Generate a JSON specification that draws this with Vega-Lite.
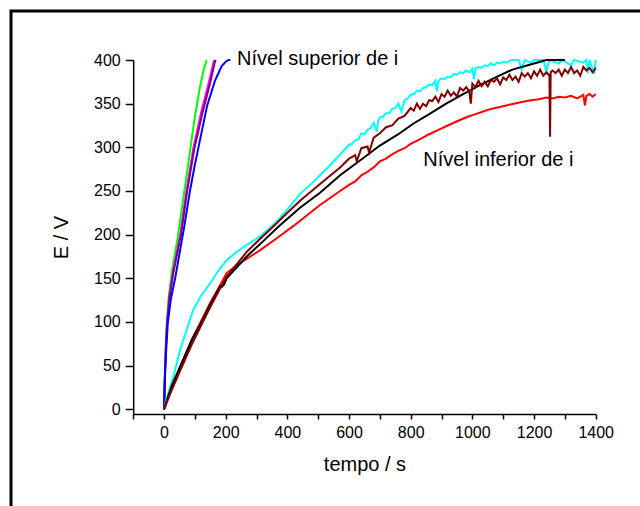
{
  "$schema": "https://vega.github.io/schema/vega-lite/v6.json",
  "width": 640,
  "height": 500,
  "autosize": "none",
  "padding": {"left": 11, "top": 11, "right": 0, "bottom": 0},
  "background": "white",
  "config": {
    "view": {"stroke": "black", "strokeWidth": 3},
    "font": "Liberation Sans",
    "text": {"font": "Liberation Sans"}
  },
  "datasets": {
    "curves": [
      {"s":"green","t":0,"v":0},{"s":"green","t":3,"v":45},{"s":"green","t":6,"v":75},{"s":"green","t":9,"v":100},{"s":"green","t":15,"v":128},{"s":"green","t":25,"v":157},{"s":"green","t":43,"v":194},{"s":"green","t":66,"v":250},{"s":"green","t":84,"v":295},{"s":"green","t":100,"v":335},{"s":"green","t":117,"v":370},{"s":"green","t":128,"v":388},{"s":"green","t":138,"v":400},
      {"s":"magenta","t":0,"v":0},{"s":"magenta","t":3,"v":41},{"s":"magenta","t":6,"v":72},{"s":"magenta","t":10,"v":100},{"s":"magenta","t":17,"v":129},{"s":"magenta","t":29,"v":157},{"s":"magenta","t":53,"v":201},{"s":"magenta","t":73,"v":251},{"s":"magenta","t":95,"v":299},{"s":"magenta","t":121,"v":341},{"s":"magenta","t":145,"v":374},{"s":"magenta","t":161,"v":398},{"s":"magenta","t":163,"v":400},
      {"s":"purple","t":0,"v":0},{"s":"purple","t":3,"v":40},{"s":"purple","t":6,"v":70},{"s":"purple","t":10,"v":98},{"s":"purple","t":18,"v":128},{"s":"purple","t":30,"v":156},{"s":"purple","t":55,"v":200},{"s":"purple","t":75,"v":250},{"s":"purple","t":98,"v":298},{"s":"purple","t":125,"v":340},{"s":"purple","t":149,"v":373},{"s":"purple","t":165,"v":398},{"s":"purple","t":168,"v":400},
      {"s":"blue","t":0,"v":0},{"s":"blue","t":3,"v":38},{"s":"blue","t":7,"v":68},{"s":"blue","t":12,"v":98},{"s":"blue","t":22,"v":126},{"s":"blue","t":36,"v":150},{"s":"blue","t":50,"v":178},{"s":"blue","t":66,"v":210},{"s":"blue","t":84,"v":250},{"s":"blue","t":100,"v":280},{"s":"blue","t":114,"v":304},{"s":"blue","t":140,"v":348},{"s":"blue","t":165,"v":376},{"s":"blue","t":187,"v":393},{"s":"blue","t":200,"v":398},{"s":"blue","t":209,"v":400},{"s":"blue","t":215,"v":400},
      {"s":"cyan","t":0,"v":0},{"s":"cyan","t":5,"v":8},{"s":"cyan","t":15,"v":20},{"s":"cyan","t":30,"v":37},{"s":"cyan","t":52,"v":68},{"s":"cyan","t":75,"v":93},{"s":"cyan","t":95,"v":114},{"s":"cyan","t":120,"v":130},{"s":"cyan","t":149,"v":144},{"s":"cyan","t":175,"v":158},{"s":"cyan","t":203,"v":171},{"s":"cyan","t":250,"v":184},{"s":"cyan","t":311,"v":198},{"s":"cyan","t":360,"v":213},{"s":"cyan","t":400,"v":229},{"s":"cyan","t":442,"v":247},{"s":"cyan","t":480,"v":259},{"s":"cyan","t":506,"v":268},{"s":"cyan","t":540,"v":280},{"s":"cyan","t":571,"v":292},{"s":"cyan","t":600,"v":303},{"s":"cyan","t":610,"v":304},{"s":"cyan","t":620,"v":308},{"s":"cyan","t":630,"v":309},{"s":"cyan","t":640,"v":316},{"s":"cyan","t":650,"v":315},{"s":"cyan","t":660,"v":320},{"s":"cyan","t":670,"v":322},{"s":"cyan","t":680,"v":328},{"s":"cyan","t":690,"v":318},{"s":"cyan","t":695,"v":331},{"s":"cyan","t":700,"v":334},{"s":"cyan","t":710,"v":335},{"s":"cyan","t":720,"v":339},{"s":"cyan","t":730,"v":339},{"s":"cyan","t":740,"v":344},{"s":"cyan","t":750,"v":345},{"s":"cyan","t":760,"v":350},{"s":"cyan","t":770,"v":341},{"s":"cyan","t":780,"v":354},{"s":"cyan","t":790,"v":356},{"s":"cyan","t":800,"v":360},{"s":"cyan","t":810,"v":361},{"s":"cyan","t":820,"v":365},{"s":"cyan","t":830,"v":364},{"s":"cyan","t":840,"v":368},{"s":"cyan","t":850,"v":369},{"s":"cyan","t":860,"v":372},{"s":"cyan","t":870,"v":371},{"s":"cyan","t":880,"v":376},{"s":"cyan","t":885,"v":364},{"s":"cyan","t":890,"v":376},{"s":"cyan","t":900,"v":379},{"s":"cyan","t":910,"v":378},{"s":"cyan","t":920,"v":381},{"s":"cyan","t":930,"v":380},{"s":"cyan","t":940,"v":384},{"s":"cyan","t":950,"v":383},{"s":"cyan","t":960,"v":386},{"s":"cyan","t":970,"v":385},{"s":"cyan","t":980,"v":388},{"s":"cyan","t":990,"v":386},{"s":"cyan","t":1000,"v":390},{"s":"cyan","t":1005,"v":378},{"s":"cyan","t":1010,"v":390},{"s":"cyan","t":1020,"v":392},{"s":"cyan","t":1030,"v":391},{"s":"cyan","t":1040,"v":394},{"s":"cyan","t":1050,"v":393},{"s":"cyan","t":1060,"v":396},{"s":"cyan","t":1070,"v":394},{"s":"cyan","t":1080,"v":397},{"s":"cyan","t":1090,"v":396},{"s":"cyan","t":1100,"v":398},{"s":"cyan","t":1110,"v":397},{"s":"cyan","t":1120,"v":399},{"s":"cyan","t":1130,"v":400},{"s":"cyan","t":1150,"v":400},{"s":"cyan","t":1160,"v":389},{"s":"cyan","t":1170,"v":400},{"s":"cyan","t":1190,"v":397},{"s":"cyan","t":1200,"v":400},{"s":"cyan","t":1230,"v":400},{"s":"cyan","t":1240,"v":387},{"s":"cyan","t":1250,"v":400},{"s":"cyan","t":1280,"v":396},{"s":"cyan","t":1290,"v":400},{"s":"cyan","t":1320,"v":394},{"s":"cyan","t":1330,"v":400},{"s":"cyan","t":1360,"v":397},{"s":"cyan","t":1370,"v":400},{"s":"cyan","t":1375,"v":385},{"s":"cyan","t":1380,"v":400},{"s":"cyan","t":1395,"v":384},{"s":"cyan","t":1400,"v":400},
      {"s":"red","t":0,"v":0},{"s":"red","t":10,"v":10},{"s":"red","t":25,"v":24},{"s":"red","t":52,"v":48},{"s":"red","t":90,"v":80},{"s":"red","t":120,"v":101},{"s":"red","t":150,"v":122},{"s":"red","t":180,"v":141},{"s":"red","t":203,"v":156},{"s":"red","t":240,"v":166},{"s":"red","t":311,"v":182},{"s":"red","t":370,"v":197},{"s":"red","t":420,"v":210},{"s":"red","t":470,"v":224},{"s":"red","t":506,"v":234},{"s":"red","t":571,"v":250},{"s":"red","t":600,"v":257},{"s":"red","t":620,"v":261},{"s":"red","t":640,"v":268},{"s":"red","t":660,"v":272},{"s":"red","t":680,"v":277},{"s":"red","t":700,"v":284},{"s":"red","t":720,"v":287},{"s":"red","t":740,"v":292},{"s":"red","t":760,"v":296},{"s":"red","t":780,"v":299},{"s":"red","t":800,"v":304},{"s":"red","t":829,"v":309},{"s":"red","t":860,"v":315},{"s":"red","t":890,"v":320},{"s":"red","t":920,"v":325},{"s":"red","t":958,"v":331},{"s":"red","t":985,"v":335},{"s":"red","t":1010,"v":338},{"s":"red","t":1035,"v":341},{"s":"red","t":1060,"v":344},{"s":"red","t":1085,"v":346},{"s":"red","t":1110,"v":348},{"s":"red","t":1135,"v":350},{"s":"red","t":1160,"v":352},{"s":"red","t":1190,"v":354},{"s":"red","t":1216,"v":355},{"s":"red","t":1240,"v":357},{"s":"red","t":1260,"v":356},{"s":"red","t":1280,"v":358},{"s":"red","t":1300,"v":357},{"s":"red","t":1320,"v":359},{"s":"red","t":1340,"v":356},{"s":"red","t":1360,"v":360},{"s":"red","t":1365,"v":348},{"s":"red","t":1370,"v":359},{"s":"red","t":1380,"v":361},{"s":"red","t":1390,"v":358},{"s":"red","t":1400,"v":361},
      {"s":"black","t":0,"v":0},{"s":"black","t":10,"v":11},{"s":"black","t":25,"v":27},{"s":"black","t":55,"v":51},{"s":"black","t":90,"v":79},{"s":"black","t":119,"v":98},{"s":"black","t":150,"v":120},{"s":"black","t":175,"v":136},{"s":"black","t":182,"v":141},{"s":"black","t":187,"v":140},{"s":"black","t":195,"v":143},{"s":"black","t":203,"v":150},{"s":"black","t":268,"v":175},{"s":"black","t":320,"v":192},{"s":"black","t":377,"v":211},{"s":"black","t":442,"v":231},{"s":"black","t":506,"v":248},{"s":"black","t":571,"v":268},{"s":"black","t":640,"v":286},{"s":"black","t":700,"v":302},{"s":"black","t":760,"v":315},{"s":"black","t":808,"v":327},{"s":"black","t":860,"v":338},{"s":"black","t":915,"v":350},{"s":"black","t":970,"v":361},{"s":"black","t":1023,"v":371},{"s":"black","t":1080,"v":381},{"s":"black","t":1130,"v":389},{"s":"black","t":1180,"v":394},{"s":"black","t":1220,"v":398},{"s":"black","t":1240,"v":400},{"s":"black","t":1300,"v":400},
      {"s":"maroon","t":0,"v":0},{"s":"maroon","t":10,"v":9},{"s":"maroon","t":25,"v":22},{"s":"maroon","t":52,"v":44},{"s":"maroon","t":90,"v":74},{"s":"maroon","t":120,"v":96},{"s":"maroon","t":150,"v":117},{"s":"maroon","t":180,"v":137},{"s":"maroon","t":203,"v":152},{"s":"maroon","t":240,"v":168},{"s":"maroon","t":270,"v":181},{"s":"maroon","t":311,"v":195},{"s":"maroon","t":350,"v":208},{"s":"maroon","t":400,"v":225},{"s":"maroon","t":442,"v":239},{"s":"maroon","t":506,"v":258},{"s":"maroon","t":571,"v":277},{"s":"maroon","t":600,"v":287},{"s":"maroon","t":620,"v":291},{"s":"maroon","t":625,"v":284},{"s":"maroon","t":640,"v":299},{"s":"maroon","t":660,"v":301},{"s":"maroon","t":665,"v":294},{"s":"maroon","t":680,"v":311},{"s":"maroon","t":700,"v":316},{"s":"maroon","t":720,"v":323},{"s":"maroon","t":740,"v":325},{"s":"maroon","t":760,"v":333},{"s":"maroon","t":780,"v":336},{"s":"maroon","t":800,"v":345},{"s":"maroon","t":810,"v":342},{"s":"maroon","t":820,"v":350},{"s":"maroon","t":830,"v":344},{"s":"maroon","t":840,"v":350},{"s":"maroon","t":850,"v":347},{"s":"maroon","t":860,"v":354},{"s":"maroon","t":870,"v":353},{"s":"maroon","t":880,"v":358},{"s":"maroon","t":890,"v":352},{"s":"maroon","t":900,"v":361},{"s":"maroon","t":910,"v":358},{"s":"maroon","t":920,"v":365},{"s":"maroon","t":930,"v":359},{"s":"maroon","t":940,"v":363},{"s":"maroon","t":950,"v":358},{"s":"maroon","t":960,"v":368},{"s":"maroon","t":970,"v":365},{"s":"maroon","t":980,"v":369},{"s":"maroon","t":990,"v":364},{"s":"maroon","t":995,"v":350},{"s":"maroon","t":1000,"v":373},{"s":"maroon","t":1010,"v":369},{"s":"maroon","t":1020,"v":376},{"s":"maroon","t":1030,"v":370},{"s":"maroon","t":1040,"v":375},{"s":"maroon","t":1050,"v":370},{"s":"maroon","t":1060,"v":377},{"s":"maroon","t":1070,"v":375},{"s":"maroon","t":1080,"v":379},{"s":"maroon","t":1090,"v":372},{"s":"maroon","t":1100,"v":380},{"s":"maroon","t":1110,"v":377},{"s":"maroon","t":1120,"v":383},{"s":"maroon","t":1130,"v":377},{"s":"maroon","t":1140,"v":381},{"s":"maroon","t":1150,"v":375},{"s":"maroon","t":1160,"v":385},{"s":"maroon","t":1170,"v":381},{"s":"maroon","t":1180,"v":385},{"s":"maroon","t":1190,"v":379},{"s":"maroon","t":1200,"v":387},{"s":"maroon","t":1210,"v":382},{"s":"maroon","t":1220,"v":389},{"s":"maroon","t":1230,"v":382},{"s":"maroon","t":1240,"v":386},{"s":"maroon","t":1250,"v":382},{"s":"maroon","t":1252,"v":312},{"s":"maroon","t":1254,"v":386},{"s":"maroon","t":1260,"v":388},{"s":"maroon","t":1270,"v":385},{"s":"maroon","t":1280,"v":389},{"s":"maroon","t":1290,"v":382},{"s":"maroon","t":1300,"v":389},{"s":"maroon","t":1310,"v":385},{"s":"maroon","t":1320,"v":392},{"s":"maroon","t":1330,"v":385},{"s":"maroon","t":1340,"v":388},{"s":"maroon","t":1350,"v":382},{"s":"maroon","t":1360,"v":392},{"s":"maroon","t":1370,"v":388},{"s":"maroon","t":1380,"v":391},{"s":"maroon","t":1390,"v":386},{"s":"maroon","t":1400,"v":391}
    ],
    "labels": [
      {"t": 237, "v": 394, "label": "Nível superior de i"},
      {"t": 841, "v": 278.6, "label": "Nível inferior de i"}
    ]
  },
  "layer": [
    {
      "data": {"name": "curves"},
      "mark": {"type": "line", "strokeWidth": 2},
      "encoding": {
        "x": {
          "field": "t", "type": "quantitative",
          "scale": {"domain": [-100, 1400], "range": [122.2, 584.7], "nice": false, "zero": false},
          "axis": {
            "title": "tempo / s",
            "values": [-100, 0, 100, 200, 300, 400, 500, 600, 700, 800, 900, 1000, 1100, 1200, 1300, 1400],
            "labelExpr": "datum.value % 200 == 0 ? datum.label : ''",
            "format": "d",
            "offset": -97,
            "grid": false,
            "domainColor": "black", "domainWidth": 1.5,
            "tickColor": "black", "tickWidth": 1.5, "tickSize": 5,
            "labelFontSize": 16, "labelColor": "black", "labelPadding": 5,
            "labelOverlap": false, "labelFlush": false,
            "titleFontSize": 20, "titleFontWeight": "normal", "titleColor": "black", "titlePadding": 14
          }
        },
        "y": {
          "field": "v", "type": "quantitative",
          "scale": {"domain": [-5.4, 400], "range": [403, 49], "nice": false, "zero": false},
          "axis": {
            "title": "E / V",
            "values": [0, 25, 50, 75, 100, 125, 150, 175, 200, 225, 250, 275, 300, 325, 350, 375, 400],
            "labelExpr": "datum.value % 50 == 0 ? datum.label : ''",
            "format": "d",
            "offset": -122.2,
            "grid": false,
            "domainColor": "black", "domainWidth": 1.5,
            "tickColor": "black", "tickWidth": 1.5,
            "tickSize": {"condition": {"test": "datum.value % 50 == 0", "value": 8}, "value": 5},
            "labelFontSize": 16, "labelColor": "black", "labelPadding": 5,
            "labelOverlap": false, "labelFlush": false,
            "titleFontSize": 20, "titleFontWeight": "normal", "titleColor": "black", "titlePadding": 22
          }
        },
        "color": {
          "field": "s", "type": "nominal",
          "scale": {
            "domain": ["green", "magenta", "purple", "blue", "cyan", "red", "black", "maroon"],
            "range": ["#00ff00", "#ff00ff", "#800080", "#0000ff", "#00ffff", "#ff0000", "#000000", "#800000"]
          },
          "legend": null
        }
      }
    },
    {
      "data": {"name": "labels"},
      "mark": {"type": "text", "align": "left", "baseline": "alphabetic", "fontSize": 20, "color": "black"},
      "encoding": {
        "x": {"field": "t", "type": "quantitative"},
        "y": {"field": "v", "type": "quantitative"},
        "text": {"field": "label", "type": "nominal"}
      }
    }
  ]
}
